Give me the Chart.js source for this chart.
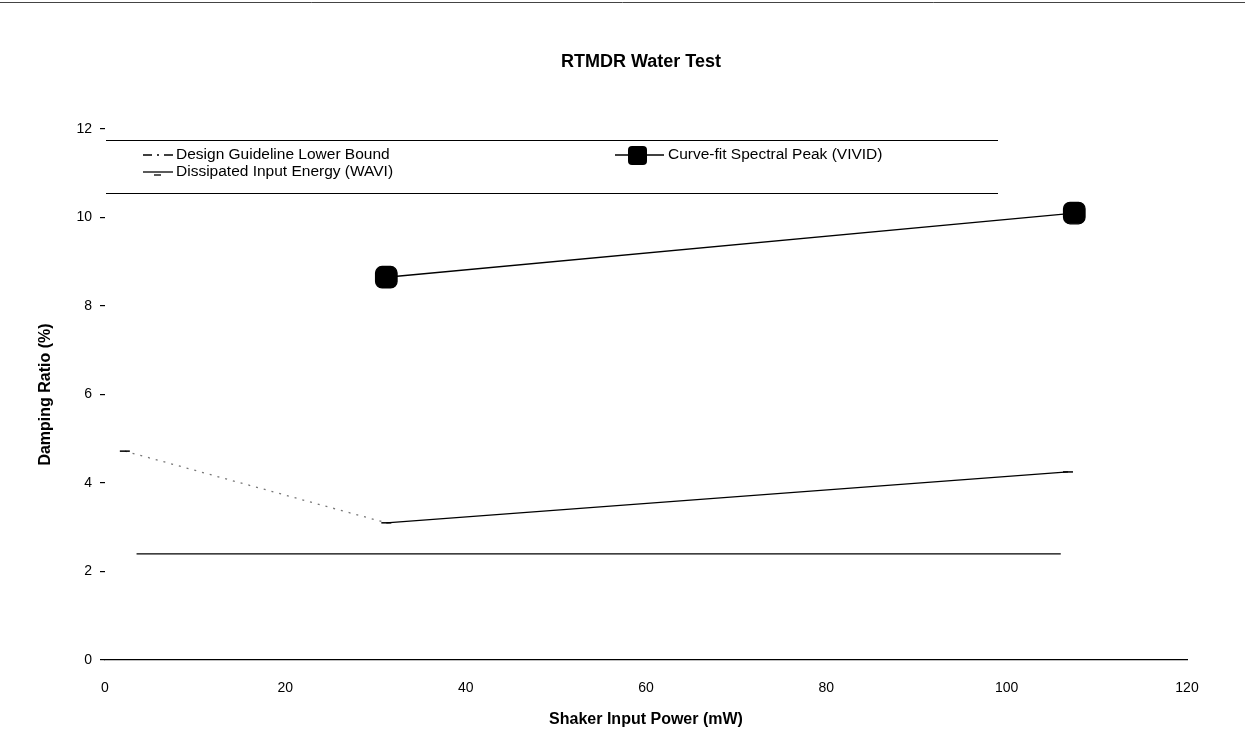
<!DOCTYPE html>
<html>
<head>
<meta charset="utf-8">
<script src="https://cdn.jsdelivr.net/npm/chart.js@4/dist/chart.umd.min.js"></script>
<style>
html,body{margin:0;padding:0;background:#fff;}
#wrap{width:1245px;height:755px;}
</style>
</head>
<body>
<div id="wrap"><canvas id="c" width="1245" height="755"></canvas></div>
<script>
// ---- data ----
const titleText = "RTMDR Water Test";
const xTitle = "Shaker Input Power (mW)";
const yTitle = "Damping Ratio (%)";
const seriesNames = ["Design Guideline Lower Bound", "Dissipated Input Energy (WAVI)", "Curve-fit Spectral Peak (VIVID)"];
const designX = [3.5, 106];
const designY = [2.4, 2.4];
const waviX = [2.2, 31.2, 106.8];
const waviY = [4.72, 3.1, 4.25];
const vividX = [31.2, 107.5];
const vividY = [8.65, 10.1];
const xTicks = [0, 20, 40, 60, 80, 100, 120];
const yTicks = [0, 2, 4, 6, 8, 10, 12];

const pts = (xs, ys) => xs.map((x, i) => ({x: x, y: ys[i]}));
const FONT = "'Liberation Sans', Arial, Helvetica, sans-serif";

const decor = {
  id: 'decor',
  afterDraw(chart) {
    const ctx = chart.ctx;
    const a = chart.chartArea;
    ctx.save();
    // top border
    ctx.strokeStyle = '#444';
    ctx.lineWidth = 1;
    ctx.beginPath(); ctx.moveTo(0, 2.5); ctx.lineTo(1245, 2.5); ctx.stroke();
    // title
    ctx.fillStyle = '#000';
    ctx.textAlign = 'center';
    ctx.textBaseline = 'middle';
    ctx.font = 'bold 18px ' + FONT;
    ctx.fillText(titleText, 641, 62);
    // axis titles
    ctx.font = 'bold 16px ' + FONT;
    ctx.fillText(xTitle, (a.left + a.right) / 2, 720);
    ctx.save();
    ctx.translate(46, (a.top + a.bottom) / 2);
    ctx.rotate(-Math.PI / 2);
    ctx.fillText(yTitle, 0, 0);
    ctx.restore();
    // legend box lines
    ctx.strokeStyle = '#000';
    ctx.lineWidth = 1.2;
    ctx.beginPath(); ctx.moveTo(106, 140.5); ctx.lineTo(998, 140.5); ctx.stroke();
    ctx.beginPath(); ctx.moveTo(106, 193.5); ctx.lineTo(998, 193.5); ctx.stroke();
    // legend entries
    ctx.font = '15.5px ' + FONT;
    ctx.textAlign = 'left';
    // design
    ctx.lineWidth = 1.3;
    ctx.setLineDash([9, 5, 2, 5]);
    ctx.beginPath(); ctx.moveTo(143, 155); ctx.lineTo(173, 155); ctx.stroke();
    ctx.setLineDash([]);
    ctx.fillText(seriesNames[0], 176, 155);
    // wavi
    ctx.beginPath(); ctx.moveTo(143, 172); ctx.lineTo(173, 172); ctx.stroke();
    ctx.beginPath(); ctx.moveTo(154, 175); ctx.lineTo(161, 175); ctx.stroke();
    ctx.fillText(seriesNames[1], 176, 172);
    // vivid
    ctx.beginPath(); ctx.moveTo(615, 155); ctx.lineTo(664, 155); ctx.stroke();
    ctx.beginPath();
    if (ctx.roundRect) { ctx.roundRect(628, 146, 19, 19, 4); } else { ctx.rect(628, 146, 19, 19); }
    ctx.fill();
    ctx.fillText(seriesNames[2], 668, 155);
    ctx.restore();
  }
};

new Chart(document.getElementById('c'), {
  type: 'line',
  data: {
    datasets: [
      {
        label: seriesNames[0],
        data: pts(designX, designY),
        borderColor: '#000',
        borderWidth: 1.3,
        pointRadius: 0,
        fill: false,
        tension: 0
      },
      {
        label: seriesNames[1],
        data: pts(waviX, waviY),
        borderColor: '#000',
        borderWidth: 1.3,
        pointStyle: 'line',
        pointRadius: 5,
        pointBorderWidth: 1.5,
        pointBorderColor: '#000',
        fill: false,
        tension: 0,
        segment: {
          borderDash: c => c.p0DataIndex === 0 ? [2, 6] : [],
          borderColor: c => c.p0DataIndex === 0 ? '#777' : '#000'
        }
      },
      {
        label: seriesNames[2],
        data: pts(vividX, vividY),
        borderColor: '#000',
        borderWidth: 1.3,
        pointStyle: 'rectRounded',
        pointRadius: 12.5,
        pointBackgroundColor: '#000',
        pointBorderColor: '#000',
        fill: false,
        tension: 0
      }
    ]
  },
  options: {
    responsive: false,
    animation: false,
    devicePixelRatio: 1,
    layout: { padding: { left: 0, top: 129, right: 58, bottom: 0 } },
    plugins: {
      legend: { display: false },
      title: { display: false },
      tooltip: { enabled: false }
    },
    scales: {
      x: {
        type: 'linear',
        min: 0, max: 120,
        afterFit: s => { s.height = 95; },
        afterBuildTicks: s => { s.ticks = xTicks.map(v => ({value: v})); },
        grid: { display: false, drawTicks: false },
        border: { display: true, color: '#000', width: 1.2 },
        ticks: { padding: 20, color: '#000', font: { family: FONT, size: 14 } }
      },
      y: {
        type: 'linear',
        min: 0, max: 12,
        afterFit: s => { s.width = 105; },
        afterBuildTicks: s => { s.ticks = yTicks.map(v => ({value: v})); },
        grid: { drawOnChartArea: false, drawTicks: true, tickLength: 5, color: '#000', lineWidth: 1.2 },
        border: { display: false },
        ticks: { padding: 8, color: '#000', font: { family: FONT, size: 14 } }
      }
    }
  },
  plugins: [decor]
});
</script>
</body>
</html>
